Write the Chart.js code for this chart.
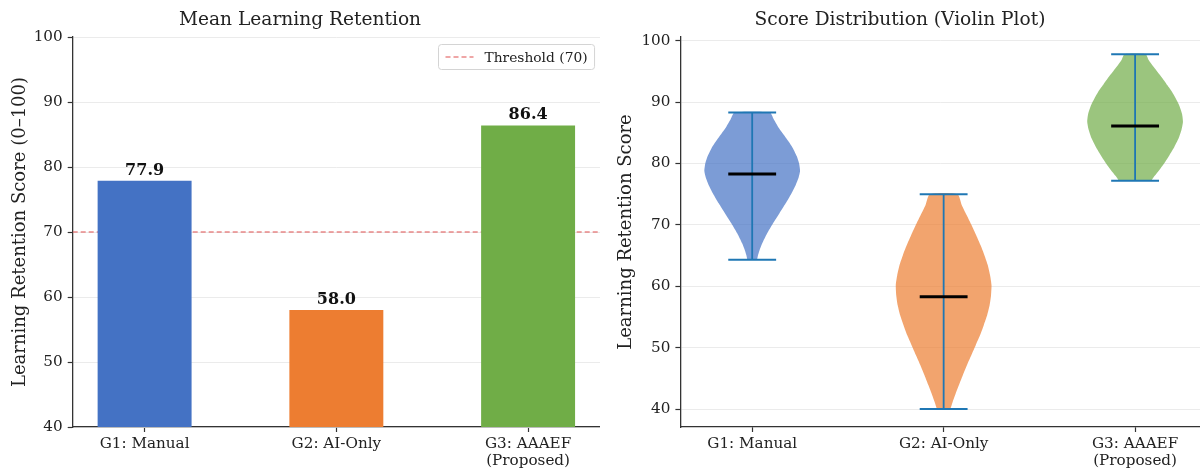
<!DOCTYPE html>
<html>
<head>
<meta charset="utf-8">
<title>Learning Retention</title>
<script src="https://cdn.jsdelivr.net/npm/chart.js@4.4.1/dist/chart.umd.min.js"></script>
<style>
  html, body { margin: 0; padding: 0; background: #fff; overflow: hidden; }
  #wrap { position: relative; width: 1200px; height: 473px; }
  .panel { position: absolute; top: 0; width: 600px; height: 473px; }
</style>
</head>
<body>
<div id="wrap">
  <div class="panel" style="left:0"><canvas id="barChart" width="600" height="473"></canvas></div>
  <div class="panel" style="left:600px"><canvas id="violinChart" width="600" height="473"></canvas></div>
</div>
<script>
// ---- data ----
const groupLabels = ['G1: Manual', 'G2: AI-Only', 'G3: AAAEF\n(Proposed)'];
const meanScores = [77.9, 58.0, 86.4];
const threshold = 70;
const yTicksLeft = [40, 50, 60, 70, 80, 90, 100];
const yTicksRight = [40, 50, 60, 70, 80, 90, 100];

// violin summary lines
const scoreMin = [64.3, 40.0, 77.2];
const scoreMax = [88.3, 75.0, 97.8];
const scoreMedian = [78.3, 58.3, 86.1];

// kernel density outline per group: score levels (bottom to top) and relative width
const g1Levels = [64.3, 65.0, 65.8, 67.0, 68.6, 70.2, 71.9, 73.5, 75.1, 76.5, 77.7, 78.8, 80.0, 81.2, 82.5, 83.7, 84.9, 86.0, 87.2, 88.3];
const g1Widths = [0.10, 0.12, 0.15, 0.21, 0.31, 0.43, 0.57, 0.70, 0.82, 0.91, 0.97, 1.00, 0.98, 0.93, 0.85, 0.75, 0.64, 0.54, 0.45, 0.37];
const g2Levels = [40.0, 41.2, 42.5, 43.9, 45.5, 47.2, 48.8, 50.4, 52.0, 53.7, 55.3, 56.9, 58.5, 60.2, 61.8, 63.5, 65.1, 66.7, 68.3, 70.0, 71.6, 73.2, 75.0];
const g2Widths = [0.14, 0.19, 0.25, 0.32, 0.40, 0.49, 0.58, 0.67, 0.76, 0.84, 0.91, 0.96, 0.99, 1.00, 0.97, 0.92, 0.85, 0.77, 0.68, 0.58, 0.48, 0.38, 0.29];
const g3Levels = [77.2, 77.8, 78.5, 79.2, 80.3, 81.4, 82.7, 84.1, 85.5, 86.8, 88.1, 89.5, 90.6, 91.7, 92.8, 93.9, 95.0, 96.0, 96.9, 97.8];
const g3Widths = [0.34, 0.39, 0.46, 0.53, 0.63, 0.72, 0.82, 0.91, 0.97, 1.00, 0.98, 0.92, 0.85, 0.77, 0.67, 0.57, 0.46, 0.36, 0.28, 0.22];

const barColors = ['#4472C4', '#ED7D31', '#70AD47'];
const violinColors = ['rgba(68,114,196,0.7)', 'rgba(237,125,49,0.7)', 'rgba(112,173,71,0.7)'];

// ---- shared styling ----
const FONT = "'DejaVu Serif', 'Liberation Serif', serif";
Chart.defaults.font.family = FONT;
Chart.defaults.color = '#222';
const SPINE = '#333';
const GRID = '#ebebeb';
const TITLE_FONT = { size: 18.6, weight: 'normal' };
const TITLE_PAD = { top: 8.8, bottom: 5.9 };

// value labels above bars
const barValueLabels = {
  id: 'barValueLabels',
  afterDatasetsDraw(chart) {
    const meta = chart.getDatasetMeta(0);
    const ctx = chart.ctx;
    ctx.save();
    ctx.font = 'bold 16px ' + FONT;
    ctx.fillStyle = '#111';
    ctx.textAlign = 'center';
    ctx.textBaseline = 'alphabetic';
    meta.data.forEach((bar, i) => {
      ctx.fillText(meanScores[i].toFixed(1), bar.x, bar.y - 6);
    });
    ctx.restore();
  }
};

// boxed legend in the upper right of the plot area
const insetLegend = {
  id: 'insetLegend',
  afterDraw(chart) {
    const ds = chart.data.datasets[1];
    const { ctx, chartArea } = chart;
    ctx.save();
    ctx.font = '13.8px ' + FONT;
    const tw = ctx.measureText(ds.label).width;
    const h = 25, lineLen = 28, gap = 11, padL = 7, padR = 7;
    const w = padL + lineLen + gap + tw + padR;
    const x = Math.round(chartArea.right - 6 - w) + 0.5;
    const y = Math.round(chartArea.top + 7) + 0.5;
    ctx.beginPath();
    ctx.roundRect(x, y, w, h, 3);
    ctx.fillStyle = 'rgba(255,255,255,0.85)';
    ctx.fill();
    ctx.strokeStyle = '#d4d4d4';
    ctx.lineWidth = 1;
    ctx.stroke();
    ctx.beginPath();
    ctx.setLineDash(ds.borderDash);
    ctx.strokeStyle = ds.borderColor;
    ctx.lineWidth = ds.borderWidth;
    ctx.moveTo(x + padL, y + h / 2);
    ctx.lineTo(x + padL + lineLen, y + h / 2);
    ctx.stroke();
    ctx.setLineDash([]);
    ctx.fillStyle = '#222';
    ctx.textBaseline = 'middle';
    ctx.fillText(ds.label, x + padL + lineLen + gap, y + h / 2 + 1);
    ctx.restore();
  }
};

function categoryTicks(offset) {
  return (scale) => { scale.ticks = groupLabels.map((_, i) => ({ value: i + offset })); };
}

// ---- left: mean retention bars ----
new Chart(document.getElementById('barChart'), {
  type: 'bar',
  data: {
    datasets: [
      {
        type: 'bar',
        label: 'Mean retention',
        data: meanScores.map((v, i) => ({ x: i, y: v })),
        backgroundColor: barColors,
        barPercentage: 0.49,
        categoryPercentage: 1.0,
        order: 1
      },
      {
        type: 'line',
        label: 'Threshold (' + threshold + ')',
        data: [{ x: -0.375, y: threshold }, { x: 2.375, y: threshold }],
        borderColor: 'rgba(226,96,96,0.75)',
        borderDash: [5, 3],
        borderWidth: 1.3,
        pointRadius: 0,
        fill: false,
        order: 2
      }
    ]
  },
  options: {
    responsive: false,
    animation: false,
    layout: { padding: 0 },
    plugins: {
      legend: { display: false },
      tooltip: { enabled: false },
      title: {
        display: true,
        text: 'Mean Learning Retention',
        font: TITLE_FONT,
        color: '#222',
        padding: TITLE_PAD
      }
    },
    scales: {
      x: {
        type: 'linear',
        min: -0.375,
        max: 2.375,
        offset: false,
        afterBuildTicks: categoryTicks(0),
        ticks: {
          callback: (v) => groupLabels[v].split('\n'),
          font: { size: 15.2, lineHeight: 1.12 },
          color: '#222',
          padding: 4,
          maxRotation: 0,
          autoSkip: false
        },
        grid: { drawOnChartArea: false, drawTicks: true, tickLength: 5, tickColor: SPINE, tickWidth: 1.2, offset: false },
        border: { display: true, color: SPINE, width: 1.3 },
        afterFit: (s) => { s.height = 46; }
      },
      y: {
        min: 40,
        max: 100,
        afterBuildTicks: (s) => { s.ticks = yTicksLeft.map(v => ({ value: v })); },
        ticks: { font: { size: 15.2 }, color: '#222', padding: 5 },
        grid: { color: GRID, lineWidth: 1, tickColor: SPINE, tickLength: 5, tickWidth: 1.2 },
        border: { display: true, color: SPINE, width: 1.3 },
        title: {
          display: true,
          text: 'Learning Retention Score (0–100)',
          font: { size: 18 },
          color: '#222',
          padding: { top: 9.2, bottom: 0 }
        },
        afterFit: (s) => { s.width = 72.7; }
      }
    }
  },
  plugins: [barValueLabels, insetLegend]
});

// ---- right: violin distribution ----
const positions = [1, 2, 3];
const halfWidth = 0.25;
const capHalf = 0.125;
const profiles = [
  { levels: g1Levels, widths: g1Widths },
  { levels: g2Levels, widths: g2Widths },
  { levels: g3Levels, widths: g3Widths }
];

const violinSets = [];
profiles.forEach((p, i) => {
  const pos = positions[i];
  const left = p.levels.map((lv, k) => ({ x: pos - halfWidth * p.widths[k], y: lv }));
  const right = p.levels.map((lv, k) => ({ x: pos + halfWidth * p.widths[k], y: lv })).reverse();
  violinSets.push({
    label: 'body ' + (i + 1),
    data: left.concat(right),
    showLine: true,
    fill: 'shape',
    backgroundColor: violinColors[i],
    borderColor: 'rgba(0,0,0,0)',
    borderWidth: 0,
    pointRadius: 0,
    tension: 0.2,
    order: 4
  });
});

const lineSet = (label, pts, color, width, order) => ({
  label, data: pts, showLine: true, borderColor: color, borderWidth: width,
  pointRadius: 0, fill: false, tension: 0, order
});

const summarySets = [];
positions.forEach((pos, i) => {
  summarySets.push(lineSet('range ' + (i + 1), [{ x: pos, y: scoreMin[i] }, { x: pos, y: scoreMax[i] }], '#1f77b4', 1.8, 3));
  summarySets.push(lineSet('min ' + (i + 1), [{ x: pos - capHalf, y: scoreMin[i] }, { x: pos + capHalf, y: scoreMin[i] }], '#1f77b4', 2, 2));
  summarySets.push(lineSet('max ' + (i + 1), [{ x: pos - capHalf, y: scoreMax[i] }, { x: pos + capHalf, y: scoreMax[i] }], '#1f77b4', 2, 2));
  summarySets.push(lineSet('median ' + (i + 1), [{ x: pos - capHalf, y: scoreMedian[i] }, { x: pos + capHalf, y: scoreMedian[i] }], '#000', 3, 1));
});

new Chart(document.getElementById('violinChart'), {
  type: 'scatter',
  data: { datasets: summarySets.concat(violinSets) },
  options: {
    responsive: false,
    animation: false,
    layout: { padding: 0 },
    plugins: {
      legend: { display: false },
      tooltip: { enabled: false },
      title: {
        display: true,
        text: 'Score Distribution (Violin Plot)',
        font: TITLE_FONT,
        color: '#222',
        padding: TITLE_PAD
      }
    },
    scales: {
      x: {
        type: 'linear',
        min: 0.625,
        max: 3.339,
        offset: false,
        afterBuildTicks: categoryTicks(1),
        ticks: {
          callback: (v) => groupLabels[v - 1].split('\n'),
          font: { size: 15.2, lineHeight: 1.12 },
          color: '#222',
          padding: 4,
          maxRotation: 0,
          autoSkip: false
        },
        grid: { drawOnChartArea: false, drawTicks: true, tickLength: 5, tickColor: SPINE, tickWidth: 1.2, offset: false },
        border: { display: true, color: SPINE, width: 1.3 },
        afterFit: (s) => { s.height = 46; }
      },
      y: {
        min: 37.07,
        max: 100.6,
        afterBuildTicks: (s) => { s.ticks = yTicksRight.map(v => ({ value: v })); },
        ticks: { font: { size: 15.2 }, color: '#222', padding: 5 },
        grid: { color: GRID, lineWidth: 1, tickColor: SPINE, tickLength: 5, tickWidth: 1.2 },
        border: { display: true, color: SPINE, width: 1.3 },
        title: {
          display: true,
          text: 'Learning Retention Score',
          font: { size: 18 },
          color: '#222',
          padding: { top: 15.2, bottom: 0 }
        },
        afterFit: (s) => { s.width = 80.4; }
      }
    }
  }
});
</script>
</body>
</html>
